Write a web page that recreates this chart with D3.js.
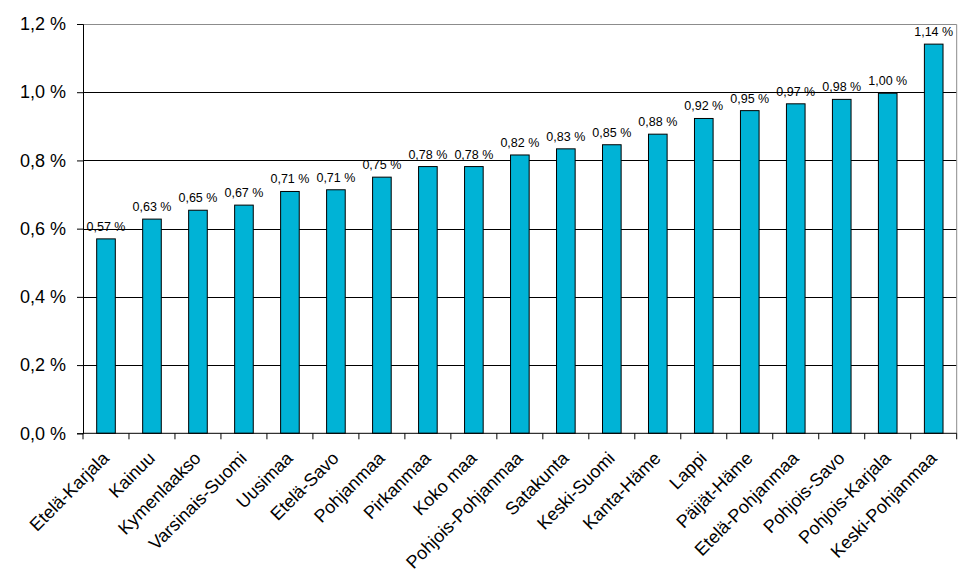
<!DOCTYPE html>
<html>
<head>
<meta charset="utf-8">
<script src="https://cdn.jsdelivr.net/npm/d3@7"></script>
<style>
  html, body { margin: 0; padding: 0; background: #fff; }
  svg { display: block; font-family: "Liberation Sans", Arial, sans-serif; }
</style>
</head>
<body>
<svg id="chart" width="965" height="587"></svg>
<script>
const categories = ["Etelä-Karjala","Kainuu","Kymenlaakso","Varsinais-Suomi","Uusimaa","Etelä-Savo","Pohjanmaa","Pirkanmaa","Koko maa","Pohjois-Pohjanmaa","Satakunta","Keski-Suomi","Kanta-Häme","Lappi","Päijät-Häme","Etelä-Pohjanmaa","Pohjois-Savo","Pohjois-Karjala","Keski-Pohjanmaa"];
const values = [0.570, 0.628, 0.654, 0.669, 0.709, 0.714, 0.751, 0.782, 0.782, 0.816, 0.834, 0.846, 0.877, 0.923, 0.946, 0.966, 0.979, 0.997, 1.141];
const yTicks = [0, 0.2, 0.4, 0.6, 0.8, 1.0, 1.2];

const W = 965, H = 587;
const m = { left: 83, top: 24, right: 8.3, bottom: 587 - 433.3 };
const iw = W - m.left - m.right, ih = H - m.top - m.bottom;

const locale = d3.formatLocale({ decimal: ",", thousands: " ", grouping: [3], currency: ["", "€"] });
const f1 = locale.format(".1f"), f2 = locale.format(".2f");

const svg = d3.select("#chart");
const g = svg.append("g").attr("transform", `translate(${m.left},${m.top})`);

const x = d3.scaleBand().domain(categories).range([0, iw]).paddingInner(0.595).paddingOuter(0.2975);
const y = d3.scaleLinear().domain([0, 1.2]).range([ih, 0]);

// gridlines
g.append("g").selectAll("line").data(yTicks.filter(t => t > 0 && t < 1.2)).join("line")
  .attr("x1", 0).attr("x2", iw)
  .attr("y1", d => Math.round(y(d)) + 0.5).attr("y2", d => Math.round(y(d)) + 0.5)
  .attr("stroke", "#000").attr("stroke-width", 1);

// plot border (top & right gray)
g.append("path")
  .attr("d", `M0,${Math.round(y(1.2)) + 0.5}H${iw}V${ih}`)
  .attr("fill", "none").attr("stroke", "#8c8c8c").attr("stroke-width", 1);

// bars
g.append("g").selectAll("rect").data(values).join("rect")
  .attr("x", (d, i) => x(categories[i]))
  .attr("width", x.bandwidth())
  .attr("y", d => y(d))
  .attr("height", d => ih - y(d))
  .attr("fill", "#00b3d6")
  .attr("stroke", "#000").attr("stroke-width", 1);

// value labels
g.append("g").selectAll("text").data(values).join("text")
  .attr("x", (d, i) => x(categories[i]) + x.bandwidth() / 2)
  .attr("y", d => y(d) - 8)
  .attr("text-anchor", "middle")
  .attr("font-size", "12.5px")
  .attr("fill", "#000")
  .text(d => f2(d) + " %");

// y axis
const yAxis = g.append("g")
  .call(d3.axisLeft(y).tickValues(yTicks).tickSize(6).tickPadding(11).tickFormat(d => f1(d) + " %"));
yAxis.select(".domain").attr("stroke", "#000");
yAxis.selectAll(".tick line").attr("stroke", "#000");
yAxis.selectAll(".tick text").attr("font-size", "18px").attr("fill", "#000")
  .attr("font-family", "'Liberation Sans', Arial, sans-serif");

// x axis line & ticks at category boundaries
const step = x.step();
const boundaries = d3.range(categories.length + 1);
g.append("line").attr("x1", 0).attr("x2", iw).attr("y1", ih).attr("y2", ih).attr("stroke", "#000");
g.append("g").selectAll("line").data(boundaries).join("line")
  .attr("x1", i => i * step).attr("x2", i => i * step)
  .attr("y1", ih).attr("y2", ih + 6).attr("stroke", "#000");

// x labels
g.append("g").selectAll("text").data(categories).join("text")
  .attr("transform", d => `translate(${x(d) + x.bandwidth() / 2 + 4},${ih + 26}) rotate(-45)`)
  .attr("text-anchor", "end")
  .attr("font-size", "18px")
  .attr("fill", "#000")
  .text(d => d);
</script>
</body>
</html>
